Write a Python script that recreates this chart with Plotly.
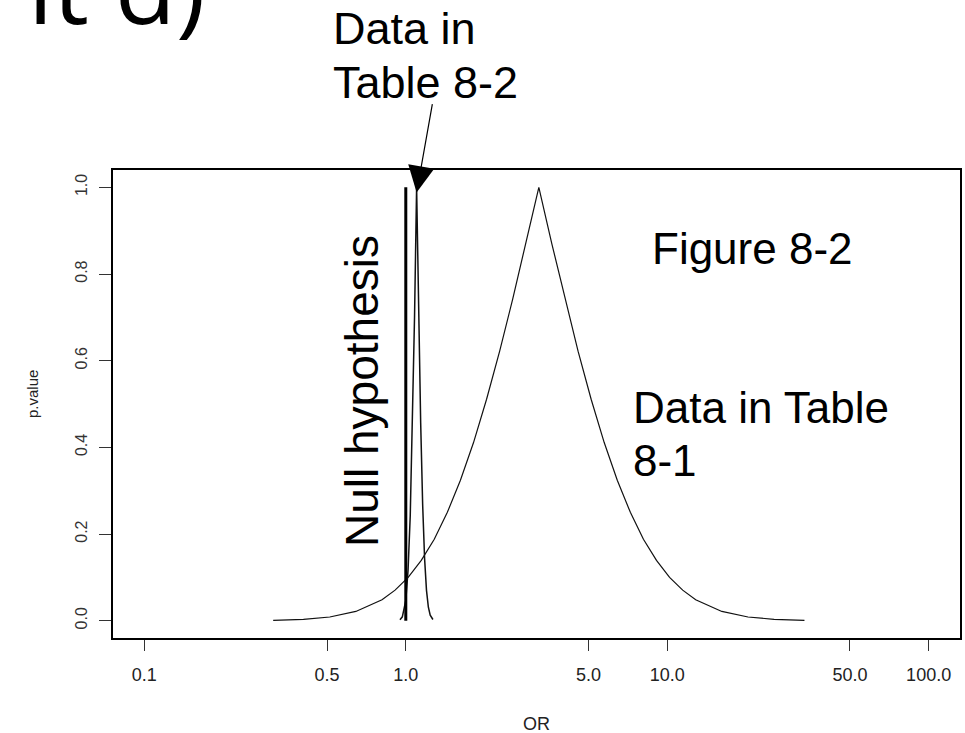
import plotly.graph_objects as go

# ---- data ----
x_ticks = [0.1, 0.5, 1.0, 5.0, 10.0, 50.0, 100.0]
x_tick_labels = ["0.1", "0.5", "1.0", "5.0", "10.0", "50.0", "100.0"]
y_ticks = [0.0, 0.2, 0.4, 0.6, 0.8, 1.0]
y_tick_labels = ["0.0", "0.2", "0.4", "0.6", "0.8", "1.0"]

# Data in Table 8-1 (wide p-value function)
or_81 = [0.311, 0.406, 0.512, 0.644, 0.811, 0.910, 1.021, 1.146, 1.285, 1.442,
         1.618, 1.816, 2.037, 2.286, 2.564, 2.877, 3.228, 3.622, 4.064, 4.560,
         5.117, 5.741, 6.442, 7.228, 8.110, 9.099, 10.21, 11.46, 12.85, 16.18,
         20.37, 25.64, 33.50]
p_81 = [0.0008, 0.0031, 0.0085, 0.0213, 0.0484, 0.0704, 0.100, 0.139, 0.188, 0.250,
        0.324, 0.411, 0.511, 0.622, 0.742, 0.869, 1.000, 0.869, 0.742, 0.622,
        0.511, 0.411, 0.324, 0.250, 0.188, 0.139, 0.100, 0.0704, 0.0484, 0.0213,
        0.0085, 0.0031, 0.0008]

# Data in Table 8-2 (narrow p-value function)
or_82 = [0.95, 0.97, 1.00, 1.02, 1.04, 1.06, 1.08, 1.10, 1.12, 1.14, 1.16,
         1.18, 1.20, 1.22, 1.24, 1.27]
p_82 = [0.0023, 0.0088, 0.047, 0.116, 0.242, 0.44, 0.70, 1.00, 0.71, 0.457,
        0.269, 0.144, 0.070, 0.031, 0.0125, 0.0027]

# Null hypothesis line
or_null = [1.0, 1.0]
p_null = [0.0, 1.0]

# ---- layout geometry ----
W, H = 965, 733
ML, MR, MT, MB = 113, 5, 170, 95
PW, PH = W - ML - MR, H - MT - MB


def px(xp):
    return (xp - ML) / PW


def py(yp):
    return (H - MB - yp) / PH


FONT = "Liberation Sans, Arial, sans-serif"

fig = go.Figure()
fig.add_trace(go.Scatter(x=or_81, y=p_81, mode="lines",
                         line=dict(color="#111111", width=1.2), showlegend=False))
fig.add_trace(go.Scatter(x=or_82, y=p_82, mode="lines",
                         line=dict(color="#111111", width=1.5), showlegend=False))
fig.add_trace(go.Scatter(x=or_null, y=p_null, mode="lines",
                         line=dict(color="black", width=3), showlegend=False))

annotations = [
    dict(text="it d)", x=px(208), y=py(55), xref="paper", yref="paper",
         xanchor="right", yanchor="bottom", showarrow=False,
         font=dict(family="Open Sans, sans-serif", size=100, color="black")),
    dict(text="Data in", x=px(331), y=py(29), xref="paper", yref="paper",
         xanchor="left", yanchor="middle", showarrow=False,
         font=dict(family=FONT, size=45, color="black")),
    dict(text="Table 8-2", x=px(331), y=py(82), xref="paper", yref="paper",
         xanchor="left", yanchor="middle", showarrow=False,
         font=dict(family=FONT, size=45, color="black")),
    dict(text="Figure 8-2", x=px(650), y=py(248), xref="paper", yref="paper",
         xanchor="left", yanchor="middle", showarrow=False,
         font=dict(family=FONT, size=44, color="black")),
    dict(text="Data in Table", x=px(631), y=py(407), xref="paper", yref="paper",
         xanchor="left", yanchor="middle", showarrow=False,
         font=dict(family=FONT, size=44, color="black")),
    dict(text="8-1", x=px(631), y=py(460), xref="paper", yref="paper",
         xanchor="left", yanchor="middle", showarrow=False,
         font=dict(family=FONT, size=44, color="black")),
    dict(text="Null hypothesis", x=px(362), y=py(391), xref="paper", yref="paper",
         xanchor="center", yanchor="middle", textangle=-90, showarrow=False,
         font=dict(family=FONT, size=46, color="black")),
    dict(text="OR", x=0.5, y=py(724), xref="paper", yref="paper",
         xanchor="center", yanchor="middle", showarrow=False,
         font=dict(family=FONT, size=18, color="#222222")),
    dict(text="p.value", x=px(32), y=py(394), xref="paper", yref="paper",
         xanchor="center", yanchor="middle", textangle=-90, showarrow=False,
         font=dict(family=FONT, size=15, color="#222222")),
    # arrow pointing at the Table 8-2 curve
    dict(text="", x=0.0414, y=0.988, xref="x", yref="y",
         ax=16, ay=-90, showarrow=True, arrowhead=2, arrowsize=4.4,
         arrowwidth=1.2, arrowcolor="black"),
]

fig.update_layout(
    width=W, height=H,
    margin=dict(l=ML, r=MR, t=MT, b=MB, pad=0, autoexpand=False),
    paper_bgcolor="white", plot_bgcolor="white",
    font=dict(family=FONT, color="#222222"),
    annotations=annotations,
)
fig.update_xaxes(type="log", range=[-1.12, 2.12],
                 tickvals=x_ticks, ticktext=x_tick_labels,
                 ticks="outside", ticklen=11, tickwidth=1.2, tickcolor="#333333",
                 showline=True, linecolor="black", linewidth=1.5, mirror=True,
                 showgrid=False, zeroline=False, ticklabelstandoff=9,
                 tickfont=dict(family=FONT, size=18, color="#222222"))
fig.update_yaxes(range=[-0.04, 1.04],
                 tickvals=y_ticks, ticktext=y_tick_labels, tickangle=-90,
                 ticks="outside", ticklen=12, tickwidth=1.2, tickcolor="#333333",
                 showline=True, linecolor="black", linewidth=1.5, mirror=True,
                 showgrid=False, zeroline=False, ticklabelstandoff=6,
                 tickfont=dict(family=FONT, size=16, color="#333333"))

fig.write_html("out.html",
               config={"displayModeBar": False},
               post_script="document.body.style.margin='0';"
                           "document.body.style.overflow='hidden';")
